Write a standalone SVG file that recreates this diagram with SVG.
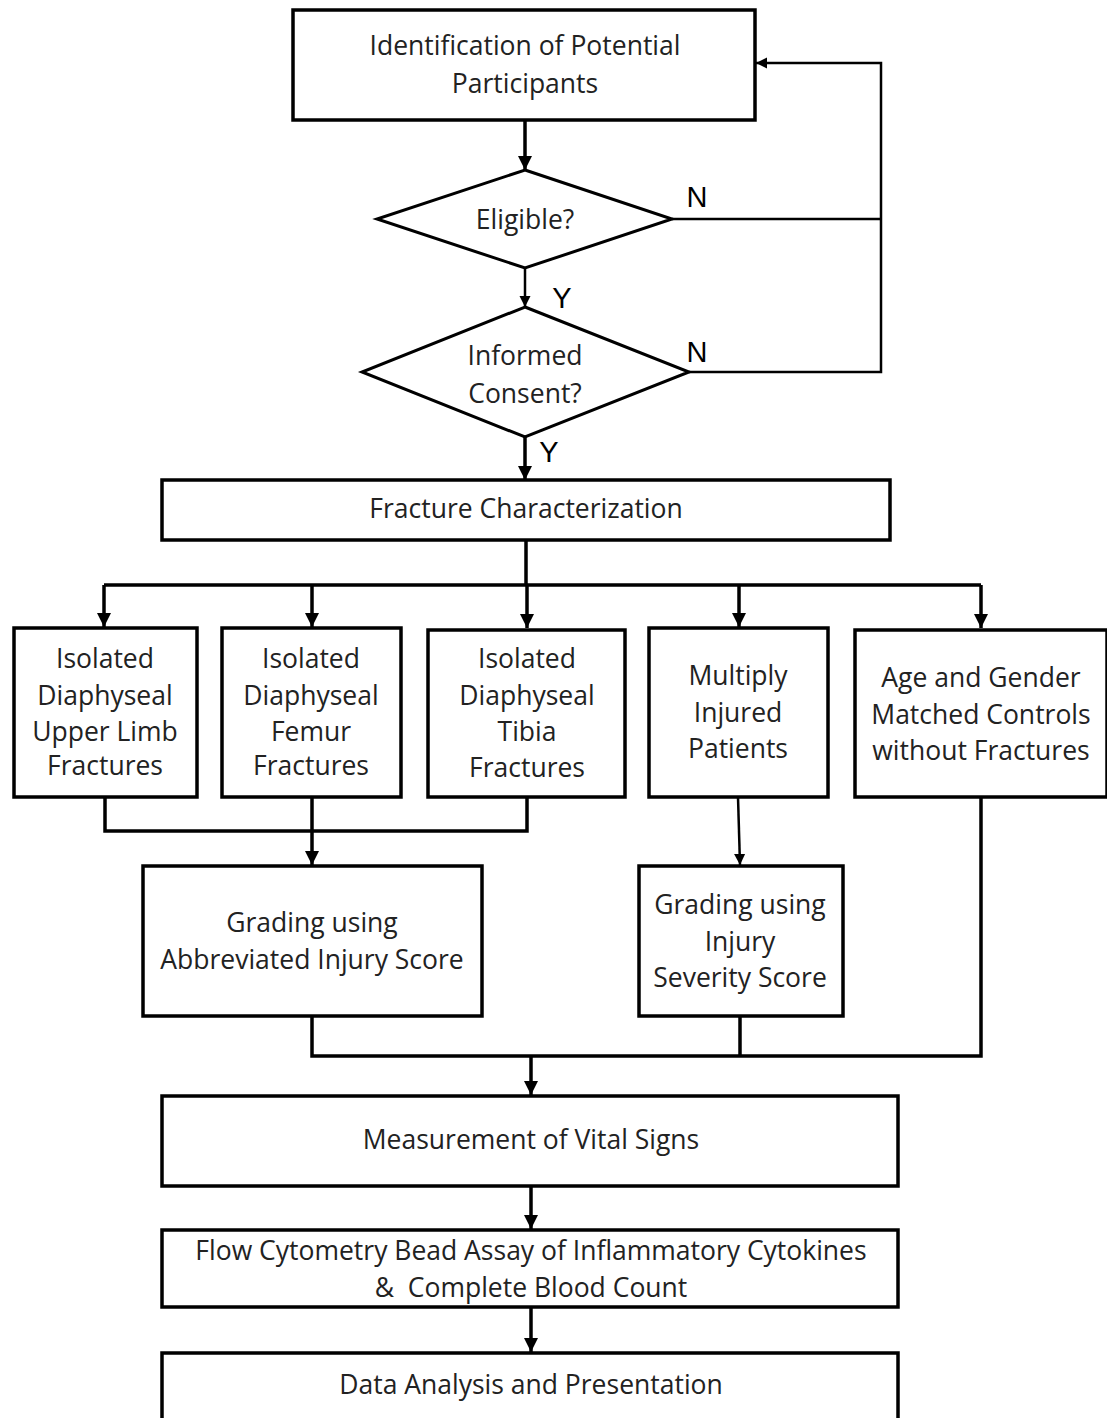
<svg xmlns="http://www.w3.org/2000/svg" width="1107" height="1418" viewBox="0 0 1107 1418">
<style>
.box{fill:#fff;stroke:#000;stroke-width:3.5}
.dia{fill:#fff;stroke:#000;stroke-width:3}
.t{font-family:"Open Sans","Liberation Sans",Arial,sans-serif;font-size:26.5px;fill:#222;text-anchor:middle}
.lbl{font-family:"Liberation Sans",Arial,sans-serif;font-size:29px;fill:#000;text-anchor:middle}
.c{fill:none;stroke:#000;stroke-width:3.5}
.thin{fill:none;stroke:#000;stroke-width:2.5}
</style>
<defs>
<marker id="ah" viewBox="0 0 10 10" refX="10" refY="5" markerWidth="4" markerHeight="4" markerUnits="strokeWidth" orient="auto"><path d="M0,0 L10,5 L0,10 z" fill="#000"/></marker>
<marker id="ahs" viewBox="0 0 10 10" refX="10" refY="5" markerWidth="4.5" markerHeight="4.5" markerUnits="strokeWidth" orient="auto"><path d="M0,0 L10,5 L0,10 z" fill="#000"/></marker>
</defs>
<rect width="1107" height="1418" fill="#fff"/>
<g id="connectors">
<path class="c" d="M525,120 V170" marker-end="url(#ah)"/>
<path class="thin" d="M672,219 H881 M689,372 H881 V63 H756" marker-end="url(#ahs)"/>
<path class="thin" d="M525,268 V307" marker-end="url(#ahs)"/>
<path class="c" d="M525,437 V480" marker-end="url(#ah)"/>
<path class="c" d="M526,540 V585 M104,585 H981"/>
<path class="c" d="M104,585 V627" marker-end="url(#ah)"/>
<path class="c" d="M312,585 V627" marker-end="url(#ah)"/>
<path class="c" d="M527,585 V628" marker-end="url(#ah)"/>
<path class="c" d="M739,585 V627" marker-end="url(#ah)"/>
<path class="c" d="M981,585 V628" marker-end="url(#ah)"/>
<path class="c" d="M105,797 V831 H527 V797"/>
<path class="c" d="M312,797 V865" marker-end="url(#ah)"/>
<path class="thin" d="M738,797 L740,865" marker-end="url(#ahs)"/>
<path class="c" d="M312,1016 V1056 H981 V797 M740,1016 V1056"/>
<path class="c" d="M531,1056 V1095" marker-end="url(#ah)"/>
<path class="c" d="M531,1186 V1229" marker-end="url(#ah)"/>
<path class="c" d="M531,1307 V1352" marker-end="url(#ah)"/>
<text class="lbl" x="697" y="207">N</text>
<text class="lbl" x="562" y="308">Y</text>
<text class="lbl" x="697" y="362">N</text>
<text class="lbl" x="549" y="462">Y</text>
</g>
<g id="identification">
<rect class="box" x="293" y="10" width="462" height="110"/>
<text class="t" x="525" y="55">Identification of Potential</text>
<text class="t" x="525" y="93">Participants</text>
</g>
<g id="eligible">
<polygon class="dia" points="525,170 672,219 525,268 377,219"/>
<text class="t" x="525" y="229">Eligible?</text>
</g>
<g id="consent">
<polygon class="dia" points="525,307 689,372 525,437 362,372"/>
<text class="t" x="525" y="365">Informed</text>
<text class="t" x="525" y="403">Consent?</text>
</g>
<g id="fracture">
<rect class="box" x="162" y="480" width="728" height="60"/>
<text class="t" x="526" y="518">Fracture Characterization</text>
</g>
<g id="upperlimb">
<rect class="box" x="14" y="628" width="183" height="169"/>
<text class="t" x="105" y="668">Isolated</text>
<text class="t" x="105" y="705">Diaphyseal</text>
<text class="t" x="105" y="741">Upper Limb</text>
<text class="t" x="105" y="775">Fractures</text>
</g>
<g id="femur">
<rect class="box" x="222" y="628" width="179" height="169"/>
<text class="t" x="311" y="668">Isolated</text>
<text class="t" x="311" y="705">Diaphyseal</text>
<text class="t" x="311" y="741">Femur</text>
<text class="t" x="311" y="775">Fractures</text>
</g>
<g id="tibia">
<rect class="box" x="428" y="630" width="197" height="167"/>
<text class="t" x="527" y="668">Isolated</text>
<text class="t" x="527" y="705">Diaphyseal</text>
<text class="t" x="527" y="741">Tibia</text>
<text class="t" x="527" y="777">Fractures</text>
</g>
<g id="multiply">
<rect class="box" x="649" y="628" width="179" height="169"/>
<text class="t" x="738" y="685">Multiply</text>
<text class="t" x="738" y="722">Injured</text>
<text class="t" x="738" y="758">Patients</text>
</g>
<g id="controls">
<rect class="box" x="855" y="630" width="252" height="167"/>
<text class="t" x="981" y="687">Age and Gender</text>
<text class="t" x="981" y="724">Matched Controls</text>
<text class="t" x="981" y="760">without Fractures</text>
</g>
<g id="ais">
<rect class="box" x="143" y="866" width="339" height="150"/>
<text class="t" x="312" y="932">Grading using</text>
<text class="t" x="312" y="969">Abbreviated Injury Score</text>
</g>
<g id="iss">
<rect class="box" x="639" y="866" width="204" height="150"/>
<text class="t" x="740" y="914">Grading using</text>
<text class="t" x="740" y="951">Injury</text>
<text class="t" x="740" y="987">Severity Score</text>
</g>
<g id="vitals">
<rect class="box" x="162" y="1096" width="736" height="90"/>
<text class="t" x="531" y="1149">Measurement of Vital Signs</text>
</g>
<g id="cytometry">
<rect class="box" x="162" y="1230" width="736" height="77"/>
<text class="t" x="531" y="1260">Flow Cytometry Bead Assay of Inflammatory Cytokines</text>
<text class="t" x="531" y="1297">&amp;&#160; Complete Blood Count</text>
</g>
<g id="analysis">
<rect class="box" x="162" y="1353" width="736" height="70"/>
<text class="t" x="531" y="1394">Data Analysis and Presentation</text>
</g>
</svg>
